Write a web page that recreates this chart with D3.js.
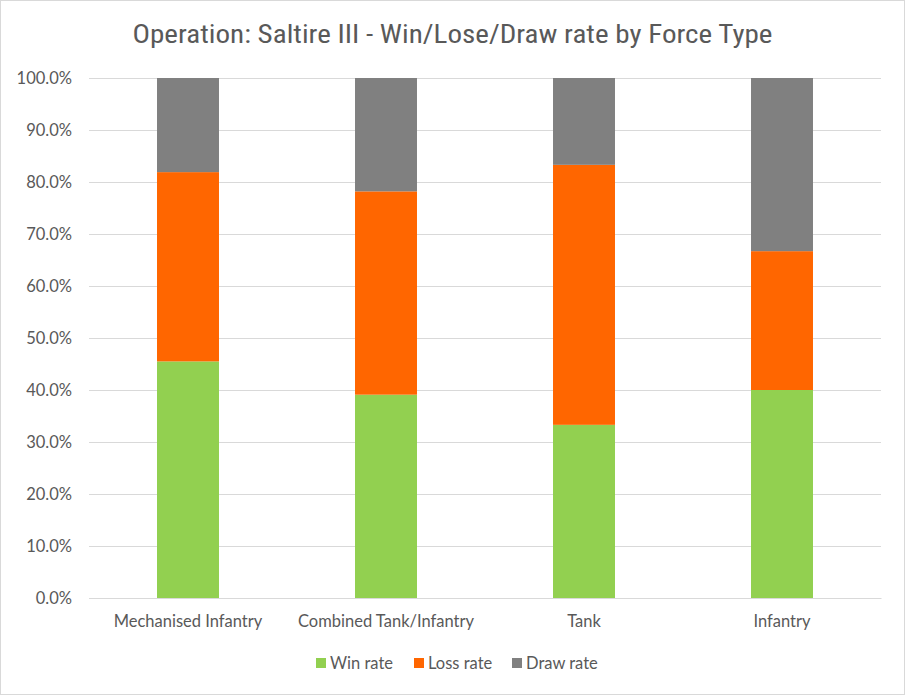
<!DOCTYPE html>
<html><head><meta charset="utf-8">
<script src="https://cdn.jsdelivr.net/npm/d3@7"></script>
<style>body{margin:0;background:#fff}svg{display:block}</style>
</head><body><svg id="c" width="905" height="695"></svg>
<script>
const categories = ["Mechanised Infantry","Combined Tank/Infantry","Tank","Infantry"];
const seriesNames = ["Win rate","Loss rate","Draw rate"];
const winRate  = [45.5, 39.1, 33.3, 40.0];
const lossRate = [36.4, 39.1, 50.0, 26.7];
const drawRate = [18.1, 21.8, 16.7, 33.3];
const yTicks = [0,10,20,30,40,50,60,70,80,90,100];
const colors = ["#92d050","#ff6600","#808080"];
const title = "Operation: Saltire III - Win/Lose/Draw rate by Force Type";

const svg = d3.select("#c");
const W = 905, H = 695;
const m = {left:89, right:24, top:78, bottom:97};
const textCol = "#595959";
const narrow = "'Liberation Sans Narrow','Roboto Condensed','Arial Narrow',sans-serif";
const body = "Lato,'Open Sans',sans-serif";

svg.append("rect").attr("x",0.5).attr("y",0.5).attr("width",W-1).attr("height",H-1)
  .attr("fill","#fff").attr("stroke","#d9d9d9");

const data = categories.map((c,i)=>({cat:c, "Win rate":winRate[i], "Loss rate":lossRate[i], "Draw rate":drawRate[i]}));
const stack = d3.stack().keys(seriesNames)(data);

const x = d3.scaleBand().domain(categories).range([m.left, W-m.right]).paddingInner(0.687).paddingOuter(0.3435);
const y = d3.scaleLinear().domain([0,100]).range([H-m.bottom, m.top]);

// gridlines
svg.append("g").selectAll("line").data(yTicks).join("line")
  .attr("x1",m.left).attr("x2",W-m.right)
  .attr("y1",d=>Math.round(y(d))+0.5).attr("y2",d=>Math.round(y(d))+0.5)
  .attr("stroke","#d9d9d9").attr("stroke-width",1);

// y axis labels
const yAxis = svg.append("g").attr("transform",`translate(${m.left},0)`)
  .call(d3.axisLeft(y).tickValues(yTicks).tickFormat(d=>d.toFixed(1)+"%").tickSize(0).tickPadding(17));
yAxis.select(".domain").remove();
yAxis.selectAll("text").attr("fill",textCol).style("font-family",body).style("font-size","16.5px");

// bars
svg.append("g").selectAll("g").data(stack).join("g")
  .attr("fill",(d,i)=>colors[i])
  .selectAll("rect").data(d=>d).join("rect")
  .attr("x",d=>x(d.data.cat)).attr("width",x.bandwidth())
  .attr("y",d=>y(d[1])).attr("height",d=>y(d[0])-y(d[1]));

// x axis
const xAxis = svg.append("g").attr("transform",`translate(0,${H-m.bottom})`)
  .call(d3.axisBottom(x).tickSize(0).tickPadding(17));
xAxis.select(".domain").attr("stroke","#d9d9d9");
xAxis.selectAll("text").attr("fill",textCol).style("font-family",body).style("font-size","16.5px");

// title
svg.append("text").attr("x",452.5).attr("y",43).attr("text-anchor","middle")
  .attr("fill",textCol).style("font-family",narrow).style("font-size","25px")
  .attr("textLength",640).attr("lengthAdjust","spacingAndGlyphs").text(title);

// legend
const legX = [316, 414, 512];
const lg = svg.append("g").selectAll("g").data(seriesNames).join("g")
  .attr("transform",(d,i)=>`translate(${legX[i]},658)`);
lg.append("rect").attr("width",10).attr("height",10).attr("fill",(d,i)=>colors[i]);
lg.append("text").attr("x",14).attr("y",10.5).attr("fill",textCol)
  .style("font-family",body).style("font-size","16.5px").text(d=>d);
</script></body></html>
